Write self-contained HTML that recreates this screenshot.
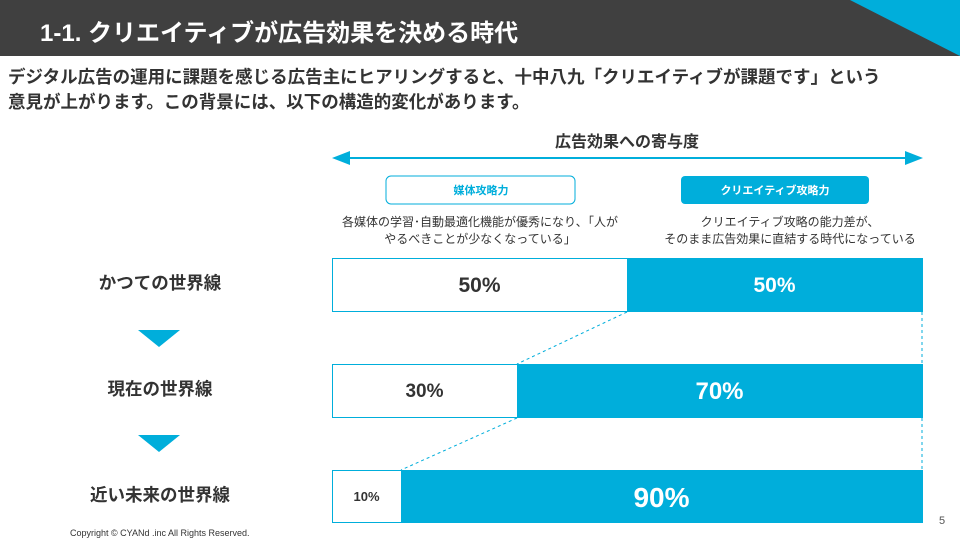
<!DOCTYPE html>
<html><head><meta charset="utf-8"><style>
body{margin:0;width:960px;height:540px;position:relative;background:#fff;font-family:"Liberation Sans","Noto Sans CJK JP",sans-serif;overflow:hidden;color:#333}
.a{position:absolute}
</style></head><body>
<div class="a" style="left:0;top:0;width:960px;height:56px;background:#404040"></div>
<svg class="a" style="left:0;top:0" width="960" height="540">
<polygon points="850,0 960,0 960,56" fill="#00aedb"/>
<line x1="345" y1="158" x2="910" y2="158" stroke="#00aedb" stroke-width="2"/>
<polygon points="332,158 350,151 350,165" fill="#00aedb"/>
<polygon points="923,158 905,151 905,165" fill="#00aedb"/>
<rect x="386" y="176" width="189" height="28" rx="5" fill="#fff" stroke="#00aedb" stroke-width="1"/>
<rect x="681" y="176" width="188" height="28" rx="4" fill="#00aedb"/>
<rect x="332.5" y="258.5" width="590" height="53" fill="#fff" stroke="#00aedb"/>
<rect x="627" y="258" width="296" height="54" fill="#00aedb"/>
<rect x="332.5" y="364.5" width="590" height="53" fill="#fff" stroke="#00aedb"/>
<rect x="517" y="364" width="406" height="54" fill="#00aedb"/>
<rect x="332.5" y="470.5" width="590" height="52" fill="#fff" stroke="#00aedb"/>
<rect x="401" y="470" width="522" height="53" fill="#00aedb"/>
<g stroke="#00aedb" stroke-dasharray="3,3" stroke-width="1">
<line x1="627" y1="312" x2="517" y2="364"/>
<line x1="517" y1="418" x2="401" y2="470"/>
<line x1="922" y1="312" x2="922" y2="364"/>
<line x1="922" y1="418" x2="922" y2="470"/>
</g>
<polygon points="138,330 180,330 159,347" fill="#00aedb"/>
<polygon points="138,435 180,435 159,452" fill="#00aedb"/>
</svg>
<div class="a" style="left:40px;top:13px;font-size:24px;font-weight:bold;color:#fff">1-1. クリエイティブが広告効果を決める時代</div>
<div class="a" style="left:8px;top:65px;font-size:17.5px;font-weight:bold;line-height:25px;color:#333;white-space:nowrap">デジタル広告の運用に課題を感じる広告主にヒアリングすると、十中八九「クリエイティブが課題です」という<br>意見が上がります。この背景には、以下の構造的変化があります。</div>
<div class="a" style="left:527px;top:128px;width:200px;text-align:center;font-size:16px;font-weight:bold">広告効果への寄与度</div>
<div class="a" style="left:386px;top:182px;width:190px;text-align:center;font-size:11px;font-weight:bold;color:#00aedb">媒体攻略力</div>
<div class="a" style="left:681px;top:182px;width:188px;text-align:center;font-size:11px;font-weight:bold;color:#fff">クリエイティブ攻略力</div>
<div class="a" style="left:320px;top:214px;width:320px;text-align:center;font-size:12px;line-height:17px">各媒体の学習･自動最適化機能が優秀になり､「人が<br>やるべきことが少なくなっている」</div>
<div class="a" style="left:630px;top:214px;width:320px;text-align:center;font-size:12px;line-height:17px">クリエイティブ攻略の能力差が、<br>そのまま広告効果に直結する時代になっている</div>
<div class="a" style="left:60px;top:270px;width:200px;text-align:center;font-size:17.5px;font-weight:bold">かつての世界線</div>
<div class="a" style="left:60px;top:376px;width:200px;text-align:center;font-size:17.5px;font-weight:bold">現在の世界線</div>
<div class="a" style="left:60px;top:482px;width:200px;text-align:center;font-size:17.5px;font-weight:bold">近い未来の世界線</div>
<div class="a" style="left:332px;top:274px;width:295px;text-align:center;font-size:21px;font-weight:bold">50%</div>
<div class="a" style="left:627px;top:274px;width:295px;text-align:center;font-size:21px;font-weight:bold;color:#fff">50%</div>
<div class="a" style="left:332px;top:381px;width:185px;text-align:center;font-size:19px;font-weight:bold">30%</div>
<div class="a" style="left:517px;top:378px;width:405px;text-align:center;font-size:24px;font-weight:bold;color:#fff">70%</div>
<div class="a" style="left:332px;top:489px;width:69px;text-align:center;font-size:13px;font-weight:bold">10%</div>
<div class="a" style="left:401px;top:482px;width:521px;text-align:center;font-size:28px;font-weight:bold;color:#fff">90%</div>
<div class="a" style="left:70px;top:528px;font-size:9px;color:#333">Copyright © CYANd .inc All Rights Reserved.</div>
<div class="a" style="left:939px;top:515px;font-size:11px;color:#555">5</div>
</body></html>
